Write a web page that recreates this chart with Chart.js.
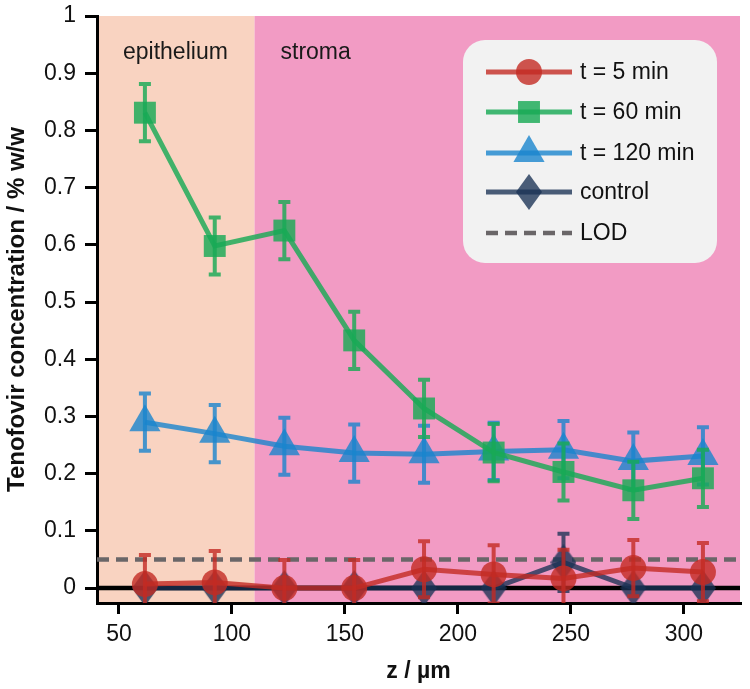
<!DOCTYPE html>
<html><head><meta charset="utf-8">
<script src="https://cdn.jsdelivr.net/npm/chart.js@4"></script>
<style>html,body{margin:0;padding:0;background:#fff}#wrap{width:750px;height:689px}</style>
</head><body><div id="wrap"><canvas id="c" width="750" height="689"></canvas></div>
<script>
// ---- data ----
const depth = [61.5, 92.4, 123.2, 154.1, 185.0, 215.8, 246.7, 277.6, 308.4];
const t5 = [0.007, 0.010, 0.000, 0.000, 0.033, 0.024, 0.017, 0.035, 0.028];
const t5Err = [0.051, 0.055, 0.049, 0.049, 0.049, 0.051, 0.050, 0.049, 0.051];
const t60 = [0.831, 0.598, 0.625, 0.433, 0.314, 0.237, 0.203, 0.171, 0.192];
const t60Err = [0.050, 0.050, 0.050, 0.050, 0.050, 0.050, 0.050, 0.050, 0.050];
const t120 = [0.290, 0.270, 0.248, 0.236, 0.234, 0.239, 0.242, 0.222, 0.231];
const t120Err = [0.050, 0.050, 0.050, 0.050, 0.050, 0.050, 0.050, 0.050, 0.050];
const control = [0, 0, 0, 0, 0, 0, 0.045, 0, 0];
const controlErr = [0, 0, 0, 0, 0, 0, 0.050, 0, 0];
const lodValue = 0.05;
const seriesLabels = ['t = 5 min', 't = 60 min', 't = 120 min', 'control'];
const lodLabel = 'LOD';
const regionLabels = ['epithelium', 'stroma'];
const regionBounds = [40.3, 110, 324.8];
const xTicks = [50, 100, 150, 200, 250, 300];
const yTicks = [0, 0.1, 0.2, 0.3, 0.4, 0.5, 0.6, 0.7, 0.8, 0.9, 1];
const xTitle = 'z / µm';
const yTitle = 'Tenofovir concentration / % w/w';

// ---- styles ----
const FONT = "'Liberation Sans', Arial, sans-serif";
const colors = ['rgba(195,42,35,0.8)', 'rgba(25,170,85,0.82)', 'rgba(25,132,205,0.8)', 'rgba(25,50,85,0.78)'];
const regionColors = ['#f9d3c1', '#f29bc4'];

function makeDiamond(w, h, col) {
  const c = document.createElement('canvas');
  c.width = w; c.height = h;
  const g = c.getContext('2d');
  g.fillStyle = col;
  g.beginPath(); g.moveTo(w/2, 0); g.lineTo(w, h/2); g.lineTo(w/2, h); g.lineTo(0, h/2); g.closePath(); g.fill();
  return c;
}
const diamond = makeDiamond(26, 36, colors[3]);
const styles = [
  {pointStyle: 'circle', radius: 13},
  {pointStyle: 'rect', radius: 15.5},
  {pointStyle: 'triangle', radius: 18},
  {pointStyle: diamond, radius: 13}
];
const seriesVals = [t5, t60, t120, control];
const seriesErrs = [t5Err, t60Err, t120Err, controlErr];

const datasets = seriesVals.map((vals, k) => ({
  label: seriesLabels[k],
  data: depth.map((x, i) => ({x: x, y: vals[i]})),
  errors: seriesErrs[k],
  borderColor: colors[k],
  backgroundColor: colors[k],
  pointBackgroundColor: colors[k],
  pointBorderWidth: 0,
  pointStyle: styles[k].pointStyle,
  pointRadius: styles[k].radius,
  borderWidth: 5,
  tension: 0,
  fill: false
}));

const bgPlugin = {
  id: 'bg',
  beforeDraw(chart) {
    const {ctx, chartArea: a, scales: {x}} = chart;
    ctx.save();
    for (let i = 0; i < regionLabels.length; i++) {
      const x0 = x.getPixelForValue(regionBounds[i]), x1 = x.getPixelForValue(regionBounds[i+1]);
      ctx.fillStyle = regionColors[i];
      ctx.fillRect(x0, a.top, x1 - x0, a.bottom - a.top);
    }
    ctx.fillStyle = '#1a1a1a';
    ctx.font = '23px ' + FONT;
    ctx.textBaseline = 'middle';
    ctx.textAlign = 'left';
    for (let i = 0; i < regionLabels.length; i++) {
      ctx.fillText(regionLabels[i], x.getPixelForValue(regionBounds[i]) + 26, a.top + 37);
    }
    ctx.restore();
  },
  beforeDatasetsDraw(chart) {
    const {ctx, chartArea: a, scales: {y}} = chart;
    ctx.save();
    ctx.beginPath(); ctx.rect(a.left, a.top, a.right - a.left, a.bottom - a.top); ctx.clip();
    ctx.strokeStyle = '#000'; ctx.lineWidth = 4.5;
    const py = y.getPixelForValue(0);
    ctx.beginPath(); ctx.moveTo(a.left, py); ctx.lineTo(a.right, py); ctx.stroke();
    ctx.strokeStyle = '#6a6668'; ctx.lineWidth = 4.5; ctx.setLineDash([12, 7]);
    const pl = y.getPixelForValue(lodValue);
    ctx.beginPath(); ctx.moveTo(a.left, pl); ctx.lineTo(a.right, pl); ctx.stroke();
    ctx.restore();
  },
  afterDatasetDraw(chart, args) {
    const ds = chart.data.datasets[args.index];
    if (!ds.errors) return;
    const {ctx, chartArea: a, scales: {x, y}} = chart;
    ctx.save();
    ctx.beginPath(); ctx.rect(a.left, a.top, a.right - a.left, a.bottom - a.top); ctx.clip();
    ctx.strokeStyle = ds.borderColor; ctx.lineWidth = 4; ctx.lineCap = 'butt';
    ctx.beginPath();
    ds.data.forEach((p, i) => {
      const e = ds.errors[i];
      if (!e) return;
      const px = x.getPixelForValue(p.x), top = y.getPixelForValue(p.y + e), bot = y.getPixelForValue(p.y - e);
      ctx.moveTo(px, top); ctx.lineTo(px, bot);
      ctx.moveTo(px - 6, top); ctx.lineTo(px + 6, top);
      ctx.moveTo(px - 6, bot); ctx.lineTo(px + 6, bot);
    });
    ctx.stroke();
    ctx.restore();
  },
  afterDatasetsDraw(chart) {
    const {ctx} = chart;
    // legend
    const L = {x: 463, y: 40, w: 254, h: 223, r: 22};
    ctx.save();
    ctx.fillStyle = '#f2f2f2';
    ctx.beginPath();
    ctx.roundRect(L.x, L.y, L.w, L.h, L.r);
    ctx.fill();
    const rowY = [72, 112, 153, 192, 233];
    const lx0 = 486, lx1 = 572, tx = 580;
    ctx.font = '23px ' + FONT;
    ctx.textBaseline = 'middle';
    ctx.textAlign = 'left';
    chart.data.datasets.forEach((ds, k) => {
      const yy = rowY[k];
      ctx.strokeStyle = ds.borderColor; ctx.lineWidth = 5;
      ctx.beginPath(); ctx.moveTo(lx0, yy); ctx.lineTo(lx1, yy); ctx.stroke();
      ctx.fillStyle = ds.pointBackgroundColor;
      Chart.helpers.drawPoint(ctx, {pointStyle: ds.pointStyle, radius: ds.pointRadius, rotation: 0, borderWidth: 0}, (lx0 + lx1) / 2, yy);
      ctx.fillStyle = '#111';
      ctx.fillText(ds.label, tx, yy + 1);
    });
    ctx.strokeStyle = '#6a6668'; ctx.lineWidth = 4.5; ctx.setLineDash([12, 7]);
    ctx.beginPath(); ctx.moveTo(lx0, rowY[4]); ctx.lineTo(lx1, rowY[4]); ctx.stroke();
    ctx.setLineDash([]);
    ctx.fillStyle = '#111';
    ctx.fillText(lodLabel, tx, rowY[4] + 1);
    ctx.restore();
  }
};

new Chart(document.getElementById('c'), {
  type: 'line',
  data: {datasets: datasets},
  options: {
    responsive: false,
    animation: false,
    devicePixelRatio: 1,
    events: [],
    layout: {autoPadding: false, padding: {top: 16, right: 10, left: 0, bottom: 0}},
    plugins: {legend: {display: false}, tooltip: {enabled: false}},
    scales: {
      x: {
        type: 'linear',
        min: regionBounds[0], max: regionBounds[2],
        afterBuildTicks(s) { s.ticks = xTicks.map(v => ({value: v})); },
        afterFit(s) { s.height = 86; s.paddingLeft = 0; s.paddingRight = 0; },
        grid: {display: true, drawOnChartArea: false, drawTicks: true, tickLength: 11, color: '#000', lineWidth: 3},
        border: {display: true, color: '#000', width: 3},
        ticks: {color: '#111', font: {family: FONT, size: 23}, padding: 7, maxRotation: 0},
        title: {display: true, text: xTitle, color: '#111', font: {family: FONT, size: 23, weight: 'bold'}, padding: {top: 4, bottom: 4}}
      },
      y: {
        type: 'linear',
        min: -0.026, max: 1,
        afterBuildTicks(s) { s.ticks = yTicks.map(v => ({value: v})); },
        afterFit(s) { s.width = 97; s.paddingTop = 0; s.paddingBottom = 0; },
        grid: {display: true, drawOnChartArea: false, drawTicks: true, tickLength: 12, color: '#000', lineWidth: 3},
        border: {display: true, color: '#000', width: 3},
        ticks: {color: '#111', font: {family: FONT, size: 23}, padding: 9,
          callback: v => String(Number(v.toFixed(2)))},
        title: {display: true, text: yTitle, color: '#111', font: {family: FONT, size: 24, weight: 'bold'}, padding: {top: 3, bottom: 4}}
      }
    }
  },
  plugins: [bgPlugin]
});
</script>
</body></html>
